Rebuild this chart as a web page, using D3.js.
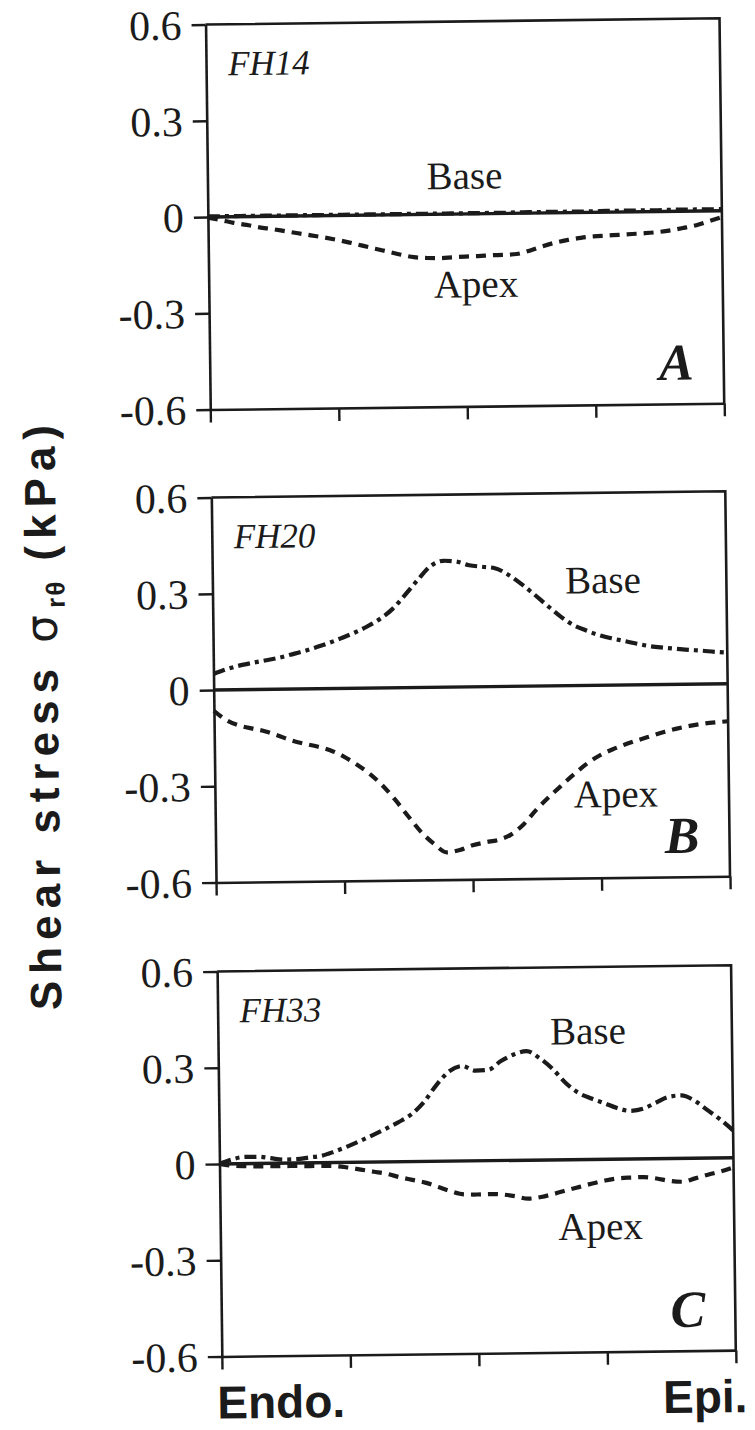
<!DOCTYPE html>
<html>
<head>
<meta charset="utf-8">
<script src="https://cdn.jsdelivr.net/npm/d3@7"></script>
<style>
  html, body { margin: 0; padding: 0; background: #fff; }
  svg { display: block; }
</style>
</head>
<body>
<svg id="chart" width="755" height="1430"></svg>
<script>
// Transmural position, endocardium (0) to epicardium (1)
const depth = [0, 0.025, 0.05, 0.075, 0.1, 0.125, 0.15, 0.175, 0.2, 0.225,
  0.25, 0.275, 0.3, 0.325, 0.35, 0.375, 0.4, 0.425, 0.45, 0.475,
  0.5, 0.525, 0.55, 0.575, 0.6, 0.625, 0.65, 0.675, 0.7, 0.725,
  0.75, 0.775, 0.8, 0.825, 0.85, 0.875, 0.9, 0.925, 0.95, 0.975, 1];

// Shear stress σrθ (kPa), heart FH14
const baseFH14 = [0.002, 0.002, 0.002, 0.002, 0.002, 0.002, 0.002, 0.002, 0.002, 0.002,
  0.002, 0.002, 0.002, 0.002, 0.002, 0.002, 0.002, 0.002, 0.002, 0.002,
  0.002, 0.002, 0.002, 0.002, 0.003, 0.003, 0.003, 0.003, 0.003, 0.003,
  0.003, 0.004, 0.004, 0.004, 0.004, 0.004, 0.005, 0.005, 0.005, 0.005, 0.005];
const apexFH14 = [-0.002, -0.01, -0.019, -0.026, -0.034, -0.04, -0.047, -0.054, -0.061, -0.068,
  -0.076, -0.085, -0.095, -0.105, -0.115, -0.125, -0.133, -0.136, -0.137, -0.135,
  -0.133, -0.132, -0.13, -0.129, -0.127, -0.117, -0.104, -0.093, -0.085, -0.079,
  -0.075, -0.073, -0.071, -0.069, -0.067, -0.064, -0.059, -0.052, -0.044, -0.032, -0.02];

// Heart FH20
const baseFH20 = [0.05, 0.064, 0.075, 0.083, 0.09, 0.097, 0.107, 0.117, 0.129, 0.142,
  0.157, 0.173, 0.192, 0.215, 0.246, 0.29, 0.336, 0.378, 0.394, 0.391,
  0.379, 0.374, 0.369, 0.349, 0.32, 0.287, 0.252, 0.218, 0.19, 0.172,
  0.157, 0.146, 0.137, 0.128, 0.12, 0.115, 0.111, 0.107, 0.104, 0.1, 0.097];
const apexFH20 = [-0.065, -0.095, -0.112, -0.122, -0.131, -0.145, -0.16, -0.171, -0.18, -0.192,
  -0.211, -0.236, -0.265, -0.302, -0.348, -0.4, -0.45, -0.488, -0.515, -0.508,
  -0.494, -0.485, -0.478, -0.462, -0.43, -0.385, -0.346, -0.31, -0.275, -0.243,
  -0.218, -0.2, -0.185, -0.172, -0.16, -0.148, -0.138, -0.13, -0.124, -0.12, -0.117];

// Heart FH33
const baseFH33 = [0, 0.014, 0.021, 0.021, 0.016, 0.011, 0.012, 0.017, 0.022, 0.035,
  0.05, 0.067, 0.085, 0.104, 0.124, 0.148, 0.187, 0.24, 0.281, 0.296,
  0.281, 0.283, 0.31, 0.33, 0.34, 0.318, 0.284, 0.24, 0.208, 0.19,
  0.175, 0.159, 0.15, 0.156, 0.174, 0.192, 0.196, 0.18, 0.15, 0.12, 0.085];
const apexFH33 = [0, -0.006, -0.008, -0.009, -0.009, -0.009, -0.009, -0.01, -0.01, -0.011,
  -0.016, -0.023, -0.03, -0.037, -0.048, -0.057, -0.066, -0.08, -0.094, -0.104,
  -0.105, -0.104, -0.106, -0.112, -0.12, -0.115, -0.106, -0.095, -0.085, -0.075,
  -0.066, -0.06, -0.058, -0.057, -0.062, -0.07, -0.073, -0.063, -0.052, -0.042, -0.03];

const hearts = ["FH14", "FH20", "FH33"];
const panelLetters = ["A", "B", "C"];
const baseSeries = [baseFH14, baseFH20, baseFH33];
const apexSeries = [apexFH14, apexFH20, apexFH33];

const yTicks = [0.6, 0.3, 0, -0.3, -0.6];
const yTickLabels = ["0.6", "0.3", "0", "-0.3", "-0.6"];
const xTicks = [0, 0.25, 0.5, 0.75, 1];
const xEndLabels = ["Endo.", "Epi."];

// Where the "Base" / "Apex" annotations sit, in data units [depth, stress]
const baseLabelAt = [[0.5, 0.078], [0.76, 0.287], [0.72, 0.36]];
const apexLabelAt = [[0.52, -0.26], [0.78, -0.38], [0.74, -0.25]];

// ---- layout ----
const ink = "#1b1b1b";
const left = 214, plotW = 514, plotH = 385;
const tops = [22.5, 495.5, 969.5];
const serif = "'Liberation Serif', 'Times New Roman', serif";
const sans = "'Liberation Sans', Arial, Helvetica, sans-serif";

const svg = d3.select("#chart");
const root = svg.append("g").attr("transform", "rotate(-0.7, 378, 715)");

const x = d3.scaleLinear().domain([0, 1]).range([0, plotW]);
const y = d3.scaleLinear().domain([-0.6, 0.6]).range([plotH, 0]);

const line = d3.line()
  .x((d, i) => x(depth[i]))
  .y(d => y(d))
  .curve(d3.curveMonotoneX);

hearts.forEach((heart, p) => {
  const g = root.append("g").attr("transform", `translate(${left},${tops[p]})`);

  // left axis with outward ticks
  const yAxis = d3.axisLeft(y)
    .tickValues(yTicks)
    .tickSize(14)
    .tickSizeOuter(0)
    .tickPadding(10)
    .tickFormat((d, i) => yTickLabels[i]);
  const ya = g.append("g").call(yAxis);
  ya.select(".domain").attr("stroke", ink).attr("stroke-width", 2.6);
  ya.selectAll(".tick line").attr("stroke", ink).attr("stroke-width", 2.4);
  ya.selectAll(".tick text")
    .attr("fill", ink)
    .attr("dy", "0.34em")
    .style("font-family", serif)
    .style("font-size", "42px");

  // bottom axis with downward ticks, no labels
  const xAxis = d3.axisBottom(x)
    .tickValues(xTicks)
    .tickSize(13)
    .tickSizeOuter(0)
    .tickFormat("");
  const xa = g.append("g").attr("transform", `translate(0,${plotH})`).call(xAxis);
  xa.select(".domain").attr("stroke", ink).attr("stroke-width", 2.6);
  xa.selectAll(".tick line").attr("stroke", ink).attr("stroke-width", 2.4);

  // top and right frame
  g.append("path")
    .attr("d", `M${x(0)},${y(0.6)}H${x(1)}V${y(-0.6)}`)
    .attr("fill", "none")
    .attr("stroke", ink)
    .attr("stroke-width", 2.6);

  // zero reference line
  g.append("line")
    .attr("x1", x(0)).attr("x2", x(1))
    .attr("y1", y(0)).attr("y2", y(0))
    .attr("stroke", ink)
    .attr("stroke-width", 3.4);

  // base (dash-dot) and apex (dashed) curves
  g.append("path")
    .datum(baseSeries[p])
    .attr("d", line)
    .attr("fill", "none")
    .attr("stroke", ink)
    .attr("stroke-width", 4.2)
    .attr("stroke-dasharray", "12,5,4,5");

  g.append("path")
    .datum(apexSeries[p])
    .attr("d", line)
    .attr("fill", "none")
    .attr("stroke", ink)
    .attr("stroke-width", 4.2)
    .attr("stroke-dasharray", "10,7");

  // heart id
  g.append("text")
    .attr("x", 22)
    .attr("y", 51)
    .attr("fill", ink)
    .style("font-family", serif)
    .style("font-style", "italic")
    .style("font-size", "35px")
    .text(heart);

  // curve annotations
  g.append("text")
    .attr("x", x(baseLabelAt[p][0]))
    .attr("y", y(baseLabelAt[p][1]))
    .attr("text-anchor", "middle")
    .attr("fill", ink)
    .style("font-family", serif)
    .style("font-size", "39px")
    .text("Base");

  g.append("text")
    .attr("x", x(apexLabelAt[p][0]))
    .attr("y", y(apexLabelAt[p][1]))
    .attr("text-anchor", "middle")
    .attr("fill", ink)
    .style("font-family", serif)
    .style("font-size", "39px")
    .text("Apex");

  // panel letter
  g.append("text")
    .attr("x", plotW - 30)
    .attr("y", plotH - 24)
    .attr("text-anchor", "end")
    .attr("fill", ink)
    .style("font-family", serif)
    .style("font-style", "italic")
    .style("font-weight", "bold")
    .style("font-size", "52px")
    .text(panelLetters[p]);
});

// x-axis end labels under the last panel
const xLabelY = tops[2] + plotH + 62;
root.append("text")
  .attr("x", left - 5)
  .attr("y", xLabelY)
  .attr("fill", ink)
  .style("font-family", sans)
  .style("font-weight", "bold")
  .style("font-size", "46px")
  .text(xEndLabels[0]);
root.append("text")
  .attr("x", left + plotW + 11)
  .attr("y", xLabelY)
  .attr("text-anchor", "end")
  .attr("fill", ink)
  .style("font-family", sans)
  .style("font-weight", "bold")
  .style("font-size", "46px")
  .text(xEndLabels[1]);

// y-axis title
const title = root.append("text")
  .attr("transform", "translate(58,710) rotate(-90)")
  .attr("text-anchor", "middle")
  .attr("fill", ink)
  .style("font-family", sans)
  .style("font-weight", "bold")
  .style("font-size", "44px")
  .style("letter-spacing", "7px");
title.append("tspan").text("Shear stress ");
title.append("tspan")
  .style("font-weight", "normal")
  .style("font-family", "'DejaVu Sans', sans-serif")
  .text(" σ");
title.append("tspan")
  .attr("dy", 8)
  .style("font-size", "26px")
  .style("letter-spacing", "2px")
  .text("rθ");
title.append("tspan")
  .attr("dy", -8)
  .text(" (kPa)");
</script>
</body>
</html>
